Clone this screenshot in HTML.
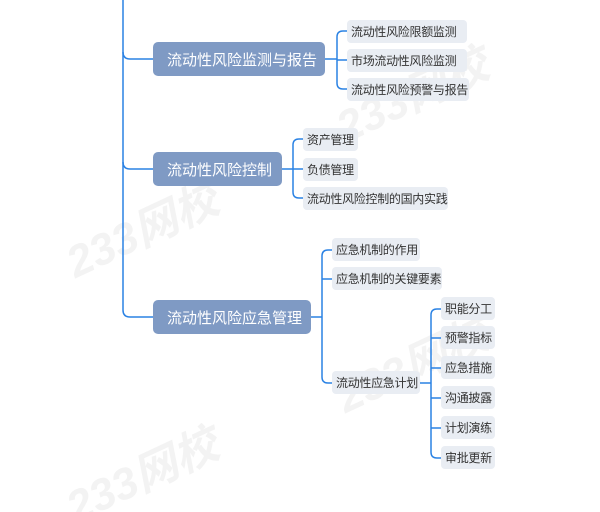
<!DOCTYPE html>
<html><head><meta charset="utf-8"><style>
html,body{margin:0;width:600px;height:512px;background:#fff;position:relative;overflow:hidden;font-family:"Liberation Sans","Noto Sans CJK SC",sans-serif;}
.m{position:absolute;background:#7f9ac4;color:#fff;font-size:15px;border-radius:5px;display:flex;align-items:center;padding-left:14px;box-sizing:border-box;height:34px;white-space:nowrap;}
.l{position:absolute;background:#e9edf3;color:#333;font-size:12px;border-radius:4px;display:flex;align-items:center;padding-left:4px;box-sizing:border-box;height:23px;white-space:nowrap;letter-spacing:-0.3px;}
svg{position:absolute;left:0;top:0;}
.wm{position:absolute;color:rgba(200,200,200,0.22);font-size:44px;font-weight:bold;transform:rotate(-25deg);font-style:italic;white-space:nowrap;}
</style></head><body>
<div class="wm" style="left:60px;top:195px;">233网校</div>
<div class="wm" style="left:60px;top:440px;">233网校</div>
<div class="wm" style="left:330px;top:60px;">233网校</div>
<div class="wm" style="left:330px;top:330px;">233网校</div>
<svg width="600" height="512" fill="none" stroke="#2a82e4" stroke-width="1.5">
<path d="M123 0 V310 Q123 317 130 317 H153"/>
<path d="M123 52 Q123 59 130 59 H153"/>
<path d="M123 162 Q123 169 130 169 H153"/>
<path d="M325 59 H337 M347 31 H343 Q337 31 337 37 V83 Q337 89 343 89 H347 M337 60 H347"/>
<path d="M282 169 H293 M303 139 H299 Q293 139 293 145 V192 Q293 198 299 198 H303 M293 169 H303"/>
<path d="M311 317 H322 M332 250 H328 Q322 250 322 256 V377 Q322 383 328 383 H332 M322 279 H332"/>
<path d="M419 383 H431 M441 309 H437 Q431 309 431 315 V452 Q431 458 437 458 H441 M431 338 H441 M431 368 H441 M431 398 H441 M431 428 H441"/>
</svg>
<div class="m" style="left:153px;top:42px;width:172px;">流动性风险监测与报告</div>
<div class="m" style="left:153px;top:152px;width:129px;">流动性风险控制</div>
<div class="m" style="left:153px;top:300px;width:158px;">流动性风险应急管理</div>
<div class="l" style="left:347px;top:20px;width:120px;">流动性风险限额监测</div>
<div class="l" style="left:347px;top:49px;width:120px;">市场流动性风险监测</div>
<div class="l" style="left:347px;top:78px;width:122px;">流动性风险预警与报告</div>
<div class="l" style="left:303px;top:128px;width:55px;">资产管理</div>
<div class="l" style="left:303px;top:158px;width:55px;">负债管理</div>
<div class="l" style="left:303px;top:187px;width:145px;">流动性风险控制的国内实践</div>
<div class="l" style="left:332px;top:238px;width:88px;">应急机制的作用</div>
<div class="l" style="left:332px;top:267px;width:110px;">应急机制的关键要素</div>
<div class="l" style="left:332px;top:371px;width:88px;">流动性应急计划</div>
<div class="l" style="left:441px;top:297px;width:54px;">职能分工</div>
<div class="l" style="left:441px;top:326px;width:54px;">预警指标</div>
<div class="l" style="left:441px;top:356px;width:54px;">应急措施</div>
<div class="l" style="left:441px;top:386px;width:54px;">沟通披露</div>
<div class="l" style="left:441px;top:416px;width:54px;">计划演练</div>
<div class="l" style="left:441px;top:446px;width:54px;">审批更新</div>
</body></html>
